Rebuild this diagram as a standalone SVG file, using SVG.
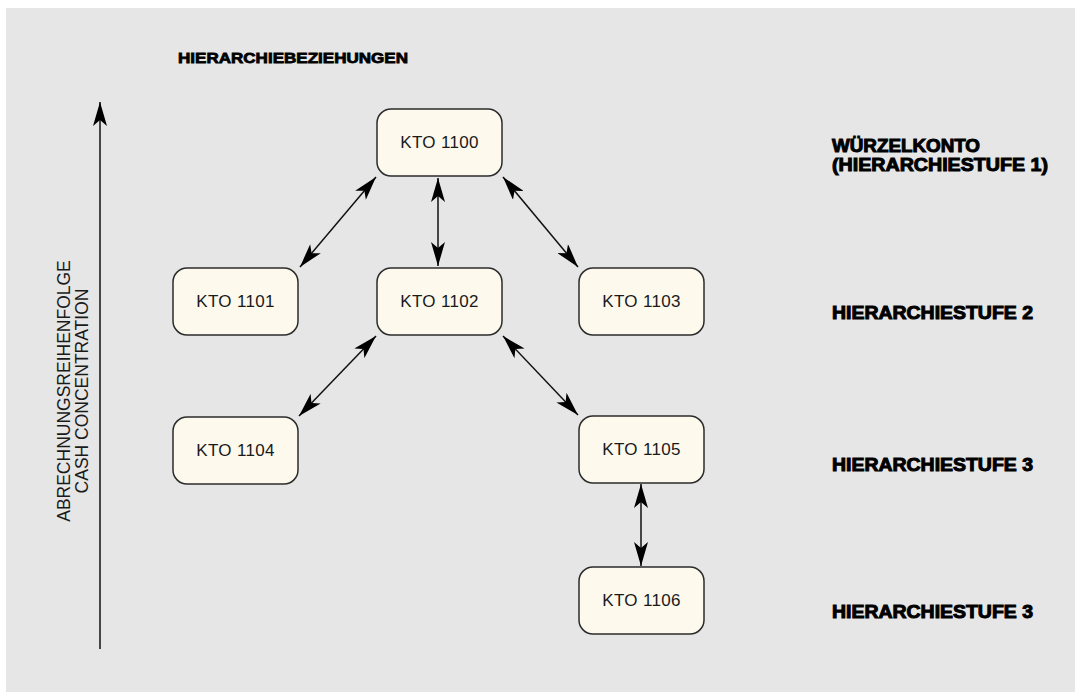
<svg xmlns="http://www.w3.org/2000/svg" width="1075" height="692" viewBox="0 0 1075 692">
  <style>
    .node rect { fill: #fdf9ed; stroke: #2b2b2b; stroke-width: 1.5; }
    .node text { font-family: "Liberation Sans", Arial, sans-serif; font-size: 17px; letter-spacing: 0.3px; fill: #1a1a1a; text-anchor: middle; }
    .conn line { stroke: #111; stroke-width: 1.5; fill: none; }
    .heavy { font-family: "Liberation Sans", Arial, sans-serif; font-weight: bold; font-size: 18px; fill: #000; stroke: #000; stroke-width: 1; }
    .title { font-size: 15px; stroke-width: 0.8; }
    .axis { font-family: "Liberation Sans", Arial, sans-serif; font-size: 17.5px; fill: #1a1a1a; text-anchor: middle; }
  </style>
  <defs>
    <marker id="head" viewBox="0 0 24 14" refX="24" refY="7" markerWidth="24" markerHeight="14" markerUnits="userSpaceOnUse" orient="auto-start-reverse">
      <path d="M0,0 L24,7 L0,14 L6,7 Z" fill="#000"/>
    </marker>
  </defs>

  <!-- panel background -->
  <rect x="6" y="8" width="1069" height="684" fill="#e6e6e6"/>

  <!-- heading -->
  <text class="heavy title" x="178" y="63" textLength="230" lengthAdjust="spacingAndGlyphs">HIERARCHIEBEZIEHUNGEN</text>

  <!-- vertical axis -->
  <g id="axis">
    <line x1="100" y1="649" x2="100" y2="102" stroke="#111" stroke-width="1.5" marker-end="url(#head)"/>
    <text class="axis" transform="translate(70,391) rotate(-90)">ABRECHNUNGSREIHENFOLGE</text>
    <text class="axis" transform="translate(88,391) rotate(-90)">CASH CONCENTRATION</text>
  </g>

  <!-- level labels -->
  <g id="levels">
    <text class="heavy" x="832" y="152" textLength="148" lengthAdjust="spacingAndGlyphs">WÜRZELKONTO</text>
    <text class="heavy" x="832" y="171" textLength="216" lengthAdjust="spacingAndGlyphs">(HIERARCHIESTUFE 1)</text>
    <text class="heavy" x="832" y="319" textLength="201" lengthAdjust="spacingAndGlyphs">HIERARCHIESTUFE 2</text>
    <text class="heavy" x="832" y="471" textLength="201" lengthAdjust="spacingAndGlyphs">HIERARCHIESTUFE 3</text>
    <text class="heavy" x="832" y="618" textLength="201" lengthAdjust="spacingAndGlyphs">HIERARCHIESTUFE 3</text>
  </g>

  <!-- connectors -->
  <g id="connectors" class="conn">
    <line x1="376" y1="177" x2="300" y2="267" marker-start="url(#head)" marker-end="url(#head)"/>
    <line x1="438" y1="178" x2="438" y2="266" marker-start="url(#head)" marker-end="url(#head)"/>
    <line x1="503" y1="177" x2="578" y2="267" marker-start="url(#head)" marker-end="url(#head)"/>
    <line x1="376" y1="336" x2="299" y2="416" marker-start="url(#head)" marker-end="url(#head)"/>
    <line x1="503" y1="336" x2="578" y2="415" marker-start="url(#head)" marker-end="url(#head)"/>
    <line x1="641" y1="484" x2="641" y2="566" marker-start="url(#head)" marker-end="url(#head)"/>
  </g>

  <!-- nodes -->
  <g id="kto1100" class="node">
    <rect x="377" y="109" width="125" height="67" rx="14"/>
    <text x="439.5" y="148">KTO 1100</text>
  </g>
  <g id="kto1101" class="node">
    <rect x="173" y="268" width="125" height="67" rx="14"/>
    <text x="235.5" y="307">KTO 1101</text>
  </g>
  <g id="kto1102" class="node">
    <rect x="377" y="268" width="125" height="67" rx="14"/>
    <text x="439.5" y="307">KTO 1102</text>
  </g>
  <g id="kto1103" class="node">
    <rect x="579" y="268" width="125" height="67" rx="14"/>
    <text x="641.5" y="307">KTO 1103</text>
  </g>
  <g id="kto1104" class="node">
    <rect x="173" y="417" width="125" height="67" rx="14"/>
    <text x="235.5" y="456">KTO 1104</text>
  </g>
  <g id="kto1105" class="node">
    <rect x="579" y="416" width="125" height="67" rx="14"/>
    <text x="641.5" y="455">KTO 1105</text>
  </g>
  <g id="kto1106" class="node">
    <rect x="579" y="567" width="125" height="67" rx="14"/>
    <text x="641.5" y="606">KTO 1106</text>
  </g>
</svg>
